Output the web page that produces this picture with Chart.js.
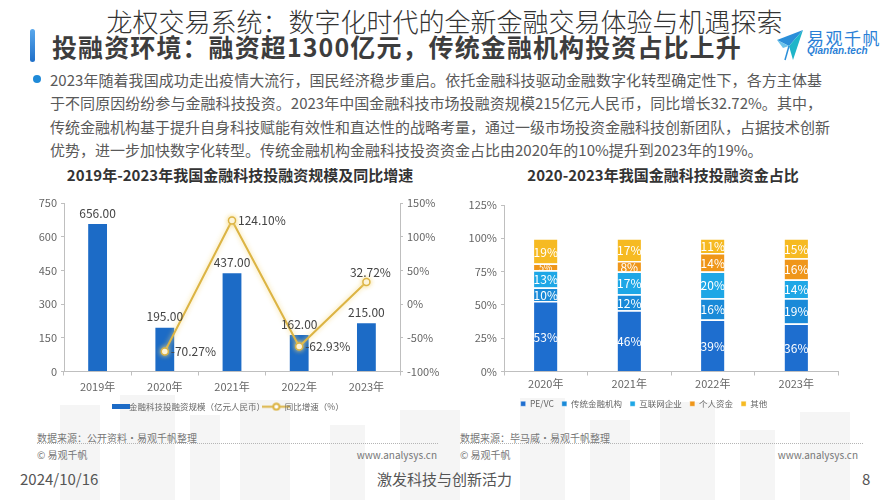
<!DOCTYPE html>
<html lang="zh-CN">
<head>
<meta charset="utf-8">
<title>投融资环境</title>
<script src="https://cdn.jsdelivr.net/npm/chart.js@4.4.1/dist/chart.umd.min.js"></script>
<style>
    html, body { margin: 0; padding: 0; }
    body {
        width: 889px; height: 500px; position: relative; overflow: hidden; background: #fff;
        font-family: "Noto Sans CJK SC", "Noto Sans", sans-serif; color: #444;
    }
    .abs { position: absolute; white-space: nowrap; }
    .bld { position: absolute; background: #f5f5f5; z-index: 0; }
    .top { z-index: 2; }
    #mainTitle {
        left: 0; width: 889px; top: 2px; text-align: center; font-size: 26px; font-weight: 300;
        color: #333; z-index: 5; text-shadow: 0 0 3px #fff, 0 0 3px #fff, 0 0 2px #fff;
    }
    #heading { left: 52px; top: 28px; font-size: 25px; font-weight: 700; color: #3d3d3d; letter-spacing: 1.1px; z-index: 3; }
    #headBar { left: 30px; top: 29px; width: 5px; height: 33px; border-radius: 3px; background: linear-gradient(#5aa8ec, #1f6fc8); }
    .para { left: 50px; width: 772px; font-size: 15px; color: #595959; text-align: justify; text-align-last: justify; z-index: 2; }
    .para.last { text-align-last: left; }
    #bullet { left: 33px; top: 75px; width: 8px; height: 8px; border-radius: 50%; background: #1f8ad8; }
    .ctitle { width: 400px; text-align: center; font-size: 15px; font-weight: 700; color: #333; top: 164px; z-index: 2; }
    .src { font-size: 10px; color: #777; z-index: 2; }
    .rule { height: 0; border-top: 1px dotted #b5b5b5; z-index: 2; }
    .foot { font-size: 15px; color: #555; top: 468px; z-index: 2; }
    canvas { position: absolute; z-index: 1; }
</style>
</head>
<body>
<!-- faint skyline behind the footer -->
<div class="bld" style="left:60px;top:405px;width:40px;height:95px"></div>
<div class="bld" style="left:120px;top:395px;width:55px;height:105px"></div>
<div class="bld" style="left:190px;top:415px;width:30px;height:85px"></div>
<div class="bld" style="left:240px;top:400px;width:50px;height:100px"></div>
<div class="bld" style="left:330px;top:425px;width:35px;height:75px"></div>
<div class="bld" style="left:400px;top:410px;width:60px;height:90px"></div>
<div class="bld" style="left:520px;top:398px;width:45px;height:102px"></div>
<div class="bld" style="left:590px;top:420px;width:40px;height:80px"></div>
<div class="bld" style="left:660px;top:402px;width:55px;height:98px"></div>
<div class="bld" style="left:740px;top:430px;width:35px;height:70px"></div>
<div class="bld" style="left:800px;top:412px;width:50px;height:88px"></div>

<div id="mainTitle" class="abs">龙权交易系统：数字化时代的全新金融交易体验与机遇探索</div>
<div id="headBar" class="abs top"></div>
<div id="heading" class="abs">投融资环境：融资超1300亿元，传统金融机构投资占比上升</div>

<svg class="abs top" style="left:775px;top:26px" width="30" height="38" viewBox="0 0 30 38">
    <polygon points="2,14 28,4 14,20" fill="#2b8fd9"/>
    <polygon points="14,20 28,4 18,34" fill="#1fb5c9"/>
    <polygon points="2,14 14,20 8,22" fill="#6cc3ea"/>
    <line x1="14" y1="20" x2="10" y2="34" stroke="#2b8fd9" stroke-width="1.5"/>
</svg>
<div class="abs top" style="left:807px;top:25px;font-size:17px;letter-spacing:1.5px;color:#2a7fd6">易观千帆</div>
<div class="abs top" style="left:807px;top:45px;font-size:10px;font-weight:700;font-style:italic;color:#2a7fd6;font-family:'Liberation Sans',sans-serif">Qianfan.tech</div>

<div id="bullet" class="abs top"></div>
<div class="abs para" style="top:69px">2023年随着我国成功走出疫情大流行，国民经济稳步重启。依托金融科技驱动金融数字化转型确定性下，各方主体基</div>
<div class="abs para" style="top:92px">于不同原因纷纷参与金融科技投资。2023年中国金融科技市场投融资规模215亿元人民币，同比增长32.72%。其中，</div>
<div class="abs para" style="top:116px">传统金融机构基于提升自身科技赋能有效性和直达性的战略考量，通过一级市场投资金融科技创新团队，占据技术创新</div>
<div class="abs para last" style="top:139px">优势，进一步加快数字化转型。传统金融机构金融科技投资资金占比由2020年的10%提升到2023年的19%。</div>

<div class="abs ctitle" style="left:40px">2019年-2023年我国金融科技投融资规模及同比增速</div>
<div class="abs ctitle" style="left:463px">2020-2023年我国金融科技投融资金占比</div>

<canvas id="scaleChart" width="420" height="231" style="left:20px;top:190px"></canvas>
<canvas id="shareChart" width="430" height="228" style="left:450px;top:190px"></canvas>

<div class="abs src" style="left:37px;top:430px">数据来源：公开资料·易观千帆整理</div>
<div class="abs rule" style="left:37px;top:443px;width:401px"></div>
<div class="abs src" style="left:37px;top:447px">© 易观千帆</div>
<div class="abs src" style="right:452px;top:447px">www.analysys.cn</div>

<div class="abs src" style="left:460px;top:430px">数据来源：毕马威·易观千帆整理</div>
<div class="abs rule" style="left:460px;top:443px;width:403px"></div>
<div class="abs src" style="left:460px;top:447px">© 易观千帆</div>
<div class="abs src" style="right:31px;top:447px">www.analysys.cn</div>

<div class="abs foot" style="left:20px">2024/10/16</div>
<div class="abs foot" style="left:0;width:889px;text-align:center">激发科技与创新活力</div>
<div class="abs foot" style="left:862px">8</div>

<script>
// ---- left chart data ----
const yearsA = ['2019年', '2020年', '2021年', '2022年', '2023年'];
const fundingScale = [656, 195, 437, 162, 215];          // 亿元人民币
const yoyGrowth = [null, -70.27, 124.10, -62.93, 32.72]; // %
const scaleTicks = [0, 150, 300, 450, 600, 750];
const growthTicks = [-100, -50, 0, 50, 100, 150];

// ---- right chart data ----
const yearsB = ['2020年', '2021年', '2022年', '2023年'];
const sourceNames = ['PE/VC', '传统金融机构', '互联网企业', '个人资金', '其他'];
const peVc = [53, 46, 39, 36];
const tradFinance = [10, 12, 16, 19];
const internetCos = [13, 17, 20, 14];
const personalFunds = [5, 8, 14, 16];
const otherFunds = [19, 17, 11, 15];
const shareTicks = [0, 25, 50, 75, 100, 125];

const FONT = '"Noto Sans CJK SC", "Noto Sans", sans-serif';
const AXIS = '#bfbfbf';
const TICK = '#666';

// legend swatches drawn as small canvases
function swatch(w, h, draw) {
    const c = document.createElement('canvas');
    c.width = w; c.height = h;
    draw(c.getContext('2d'));
    return c;
}
const barSwatch = swatch(18, 5, g => { g.fillStyle = '#1c6bc6'; g.fillRect(0, 0, 18, 5); });
const lineSwatch = swatch(28, 9, g => {
    g.strokeStyle = '#dcb444'; g.lineWidth = 2;
    g.beginPath(); g.moveTo(0, 4.5); g.lineTo(28, 4.5); g.stroke();
    g.fillStyle = '#fff'; g.beginPath(); g.arc(14, 4.5, 3, 0, Math.PI * 2); g.fill(); g.stroke();
});

// Value labels for the left chart (+ soft glow on the line)
const scaleLabels = {
    id: 'scaleLabels',
    beforeDatasetDraw(chart, args) {
        if (args.index === 1) {
            chart.ctx.save();
            chart.ctx.shadowColor = 'rgba(245, 215, 120, 0.9)';
            chart.ctx.shadowBlur = 5;
        }
    },
    afterDatasetDraw(chart, args) {
        if (args.index === 1) chart.ctx.restore();
    },
    afterDatasetsDraw(chart) {
        const ctx = chart.ctx;
        ctx.save();
        ctx.font = '12px ' + FONT;
        ctx.fillStyle = '#444';
        ctx.textAlign = 'center';
        ctx.textBaseline = 'middle';
        chart.getDatasetMeta(0).data.forEach((bar, i) => {
            ctx.fillText(fundingScale[i].toFixed(2), bar.x, bar.y - 11);
        });
        chart.getDatasetMeta(1).data.forEach((pt, i) => {
            const v = yoyGrowth[i];
            if (v === null) return;
            const txt = v.toFixed(2) + '%';
            if (i === yoyGrowth.length - 1) {
                ctx.textAlign = 'center';
                ctx.fillText(txt, pt.x + 4, pt.y - 10);
            } else {
                ctx.textAlign = 'left';
                ctx.fillText(txt, pt.x + 6, pt.y);
            }
        });
        ctx.restore();
    }
};

new Chart(document.getElementById('scaleChart'), {
    data: {
        labels: yearsA,
        datasets: [{
            type: 'bar',
            label: '金融科技投融资规模（亿元人民币）',
            data: fundingScale,
            backgroundColor: '#1c6bc6',
            yAxisID: 'y',
            categoryPercentage: 1,
            barPercentage: 0.28,
            order: 2
        }, {
            type: 'line',
            label: '同比增速（%）',
            data: yoyGrowth,
            borderColor: '#dcb444',
            borderWidth: 2,
            pointBackgroundColor: '#fff',
            pointBorderColor: '#dcb444',
            pointBorderWidth: 1.5,
            pointRadius: 3.5,
            yAxisID: 'y1',
            tension: 0,
            order: 1
        }]
    },
    options: {
        responsive: false,
        animation: false,
        layout: { padding: { top: 13, bottom: 0, left: 0, right: 0 } },
        plugins: {
            legend: {
                position: 'bottom',
                labels: {
                    usePointStyle: true,
                    color: '#666',
                    font: { size: 8.5, family: FONT },
                    padding: 7,
                    generateLabels: () => [
                        { text: '金融科技投融资规模（亿元人民币）', pointStyle: barSwatch, fontColor: '#666', datasetIndex: 0, lineWidth: 0 },
                        { text: '同比增速（%）', pointStyle: lineSwatch, fontColor: '#666', datasetIndex: 1, lineWidth: 0 }
                    ]
                }
            },
            tooltip: { enabled: false }
        },
        scales: {
            x: {
                grid: { display: true, drawOnChartArea: false, tickLength: 4, color: AXIS },
                border: { color: AXIS },
                ticks: { color: TICK, font: { size: 11, family: FONT }, padding: 5 },
                afterFit: s => { s.height = 24; }
            },
            y: {
                min: scaleTicks[0], max: scaleTicks[scaleTicks.length - 1],
                ticks: { stepSize: scaleTicks[1] - scaleTicks[0], color: TICK, font: { size: 11, family: FONT }, padding: 4 },
                grid: { display: true, drawOnChartArea: false, tickLength: 3, color: AXIS },
                border: { color: AXIS },
                afterFit: s => { s.width = 44; }
            },
            y1: {
                position: 'right',
                min: growthTicks[0], max: growthTicks[growthTicks.length - 1],
                ticks: { stepSize: growthTicks[1] - growthTicks[0], color: TICK, font: { size: 11, family: FONT }, padding: 4, callback: v => v + '%' },
                grid: { display: true, drawOnChartArea: false, tickLength: 3, color: AXIS },
                border: { color: AXIS },
                afterFit: s => { s.width = 40; }
            }
        }
    },
    plugins: [scaleLabels]
});

// White percentage labels inside the stacked segments
const shareLabels = {
    id: 'shareLabels',
    afterDatasetsDraw(chart) {
        const ctx = chart.ctx;
        ctx.save();
        ctx.fillStyle = '#fff';
        ctx.textAlign = 'center';
        ctx.textBaseline = 'middle';
        chart.data.datasets.forEach((ds, di) => {
            chart.getDatasetMeta(di).data.forEach((bar, i) => {
                const v = ds.data[i];
                ctx.font = (v < 6 ? '9px ' : '12px ') + FONT;
                ctx.fillText(v + '%', bar.x, (bar.y + bar.base) / 2 + 1);
            });
        });
        ctx.restore();
    }
};

const shareSeries = [peVc, tradFinance, internetCos, personalFunds, otherFunds];
const shareColors = ['#1e6ecf', '#1a8ad8', '#1ea7e6', '#ef961a', '#f6ba22'];

new Chart(document.getElementById('shareChart'), {
    type: 'bar',
    data: {
        labels: yearsB,
        datasets: shareSeries.map((vals, i) => ({
            label: sourceNames[i],
            data: vals,
            backgroundColor: shareColors[i],
            borderColor: '#fff',
            borderWidth: { top: 1.5, bottom: 0, left: 0, right: 0 },
            borderSkipped: false,
            categoryPercentage: 1,
            barPercentage: 0.28
        }))
    },
    options: {
        responsive: false,
        animation: false,
        layout: { padding: { top: 15, bottom: 0, left: 0, right: 42 } },
        plugins: {
            legend: {
                position: 'bottom',
                labels: {
                    boxWidth: 5, boxHeight: 5,
                    color: '#666',
                    font: { size: 8.5, family: FONT },
                    padding: 8
                }
            },
            tooltip: { enabled: false }
        },
        scales: {
            x: {
                stacked: true,
                grid: { display: true, drawOnChartArea: false, tickLength: 4, color: AXIS },
                border: { color: AXIS },
                ticks: { color: TICK, font: { size: 11, family: FONT }, padding: 2 },
                afterFit: s => { s.height = 20; }
            },
            y: {
                stacked: true,
                min: shareTicks[0], max: shareTicks[shareTicks.length - 1],
                ticks: { stepSize: shareTicks[1] - shareTicks[0], color: TICK, font: { size: 11, family: FONT }, padding: 4, callback: v => v + '%' },
                grid: { display: true, drawOnChartArea: false, tickLength: 3, color: AXIS },
                border: { color: AXIS },
                afterFit: s => { s.width = 54; }
            }
        }
    },
    plugins: [shareLabels]
});
</script>
</body>
</html>
